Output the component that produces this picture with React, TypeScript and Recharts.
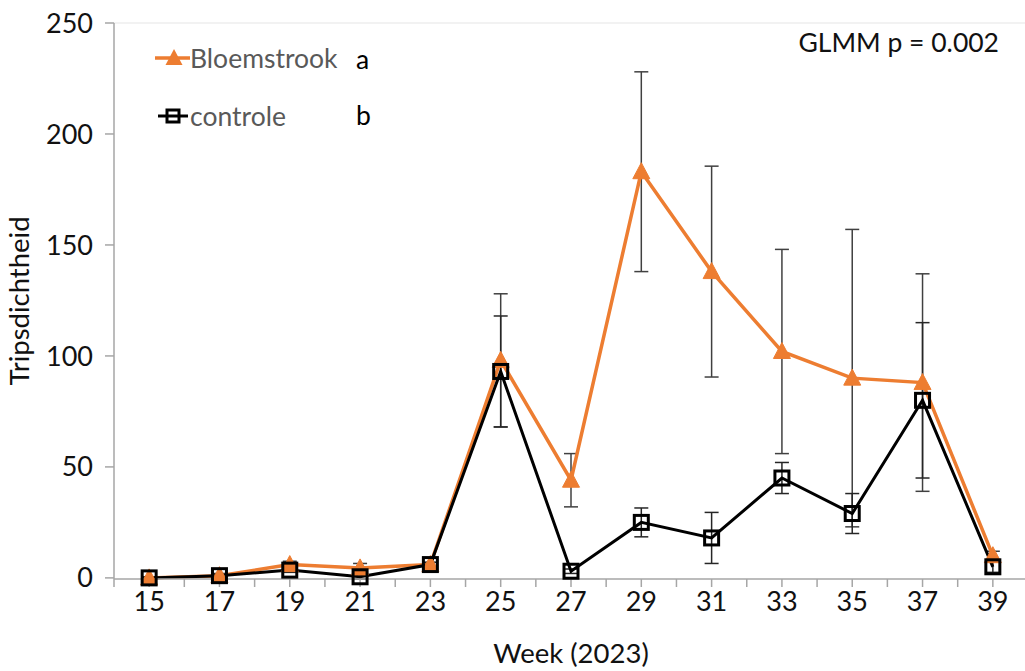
import React from 'react';
import { LineChart, Line, XAxis, YAxis, ErrorBar, Legend, ReferenceLine } from 'recharts';

const weeks = [15, 17, 19, 21, 23, 25, 27, 29, 31, 33, 35, 37, 39];
const bloemstrook = [0, 1, 6, 4.5, 6, 98, 44, 183, 138, 102, 90, 88, 10];
const bloemstrookErr = [0.5, 1, 1.5, 2, 1, 30, 12, 45, 47.5, 46, 67, 49, 2];
const controle = [0, 1, 3.5, 0.5, 6, 93, 3, 25, 18, 45, 29, 80, 5];
const controleErr = [0.3, 0.8, 1, 1, 1, 25, 1, 6.5, 11.5, 7, 9, 35, 2.5];
const xTicks = [14, 15, 16, 17, 18, 19, 20, 21, 22, 23, 24, 25, 26, 27, 28, 29, 30, 31, 32, 33, 34, 35, 36, 37, 38, 39, 40];
const yTicks = [0, 50, 100, 150, 200, 250];

const seriesNames = ['Bloemstrook', 'controle'];
const groupLetters = ['a', 'b'];
const statText = 'GLMM p = 0.002';

const data = weeks.map((w, i) => ({
  week: w,
  b: bloemstrook[i],
  bErr: bloemstrookErr[i],
  c: controle[i],
  cErr: controleErr[i],
}));

const ORANGE = '#ED7D31';
const FONT = 'Lato, "Open Sans", sans-serif';

const TriangleDot = (p: any) => {
  const { cx, cy, index } = p;
  if (cx == null || cy == null) return <g key={`t${index}`} />;
  return (
    <polygon
      key={`t${index}`}
      points={`${cx},${cy - 9} ${cx - 8.5},${cy + 7} ${cx + 8.5},${cy + 7}`}
      fill={ORANGE}
      stroke={ORANGE}
      strokeWidth={1}
    />
  );
};

const SquareDot = (p: any) => {
  const { cx, cy, index } = p;
  if (cx == null || cy == null) return <g key={`s${index}`} />;
  return (
    <rect
      key={`s${index}`}
      x={cx - 7}
      y={cy - 7}
      width={14}
      height={14}
      fill="none"
      stroke="#000"
      strokeWidth={3}
    />
  );
};

const LegendContent = () => {
  const textStyle: React.CSSProperties = {
    position: 'absolute',
    fontFamily: FONT,
    fontSize: 26.5,
    lineHeight: '30px',
    whiteSpace: 'nowrap',
  };
  return (
    <div style={{ position: 'relative', width: 1025, height: 150 }}>
      <svg style={{ position: 'absolute', left: 150, top: 40 }} width={45} height={100}>
        <line x1={5} y1={18} x2={40} y2={18} stroke={ORANGE} strokeWidth={3.5} />
        <polygon points={`24,9 15.5,25 32.5,25`} fill={ORANGE} />
        <line x1={8} y1={76} x2={38} y2={76} stroke="#000" strokeWidth={3} />
        <rect x={17} y={70} width={12} height={12} fill="none" stroke="#000" strokeWidth={3} />
      </svg>
      <div style={{ ...textStyle, left: 190, top: 43, color: '#595959' }}>{seriesNames[0]}</div>
      <div style={{ ...textStyle, left: 356, top: 44, color: '#000' }}>{groupLetters[0]}</div>
      <div style={{ ...textStyle, left: 190, top: 101, color: '#595959' }}>{seriesNames[1]}</div>
      <div style={{ ...textStyle, left: 356, top: 100, color: '#000' }}>{groupLetters[1]}</div>
      <div style={{ ...textStyle, right: 26, top: 27, color: '#111' }}>{statText}</div>
    </div>
  );
};

export default function App() {
  return (
    <div
      style={{
        position: 'absolute',
        left: 0,
        top: 0,
        width: 1025,
        height: 671,
        overflow: 'hidden',
        background: '#fff',
      }}
    >
      <LineChart
        width={1030}
        height={671}
        data={data}
        margin={{ top: 23, right: 2, bottom: 0, left: 0 }}
      >
        <ReferenceLine y={250} stroke="#eeeeee" strokeWidth={1.5} ifOverflow="extendDomain" />
        <XAxis
          dataKey="week"
          type="number"
          domain={[14, 40]}
          ticks={xTicks}
          interval={0}
          allowDataOverflow
          height={92}
          tickFormatter={(v: number) => (v % 2 === 1 ? String(v) : '')}
          axisLine={{ stroke: '#a6a6a6', strokeWidth: 1.5 }}
          tickLine={{ stroke: '#a6a6a6', strokeWidth: 1.5 }}
          tickSize={8}
          tickMargin={5}
          tick={{ fill: '#111', fontSize: 27, fontFamily: FONT }}
          label={{
            value: 'Week (2023)',
            position: 'insideBottom',
            offset: 8,
            style: { fill: '#111', fontSize: 27.5, fontFamily: FONT },
          }}
        />
        <YAxis
          type="number"
          domain={[0, 250]}
          ticks={yTicks}
          interval={0}
          width={114}
          axisLine={{ stroke: '#a6a6a6', strokeWidth: 1.5 }}
          tickLine={{ stroke: '#a6a6a6', strokeWidth: 1.5 }}
          tickSize={9}
          tickMargin={12}
          tick={{ fill: '#111', fontSize: 27, fontFamily: FONT }}
          label={{
            value: 'Tripsdichtheid',
            angle: -90,
            position: 'insideLeft',
            dx: 14,
            style: { fill: '#111', fontSize: 27.5, fontFamily: FONT, textAnchor: 'middle' },
          }}
        />
        <Legend
          verticalAlign="middle"
          align="center"
          layout="horizontal"
          content={<LegendContent />}
          wrapperStyle={{ position: 'absolute', left: 0, top: 0, width: 1025, height: 150, pointerEvents: 'none' }}
        />
        <Line
          type="linear"
          dataKey="b"
          name={seriesNames[0]}
          stroke={ORANGE}
          strokeWidth={3.5}
          dot={TriangleDot}
          activeDot={false}
          isAnimationActive={false}
        >
          <ErrorBar dataKey="bErr" direction="y" width={7} stroke="#404040" strokeWidth={1.5} />
        </Line>
        <Line
          type="linear"
          dataKey="c"
          name={seriesNames[1]}
          stroke="#000"
          strokeWidth={3}
          dot={SquareDot}
          activeDot={false}
          isAnimationActive={false}
        >
          <ErrorBar dataKey="cErr" direction="y" width={7} stroke="#262626" strokeWidth={1.5} />
        </Line>
      </LineChart>
    </div>
  );
}
